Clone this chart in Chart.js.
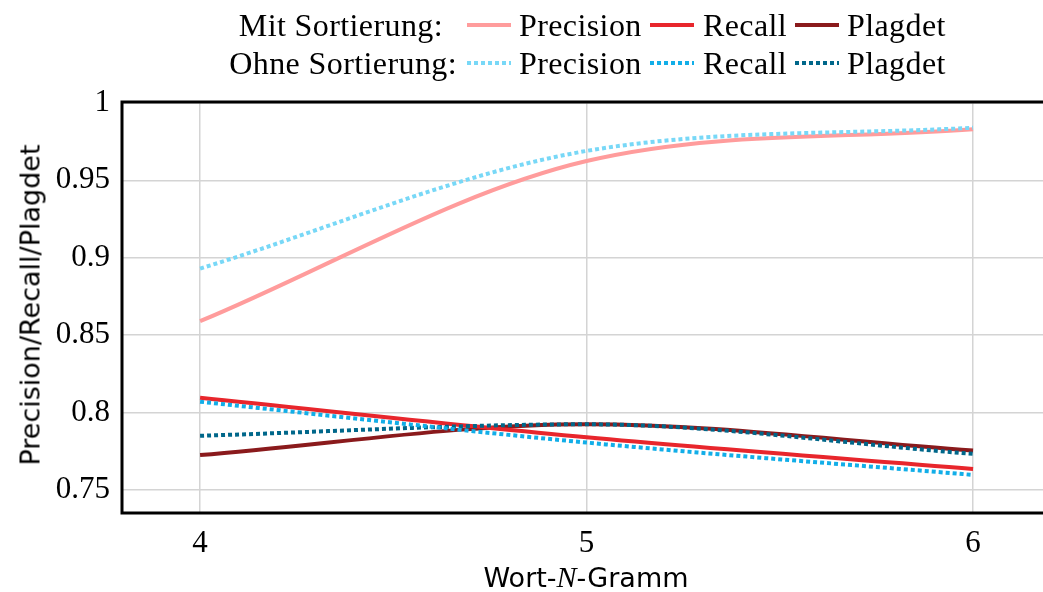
<!DOCTYPE html>
<html>
<head>
<meta charset="utf-8">
<script src="https://cdn.jsdelivr.net/npm/chart.js@4/dist/chart.umd.min.js"></script>
<style>
    body { margin: 0; background: #fff; }
    #wrap { position: relative; width: 1043px; height: 592px; overflow: hidden; }
    .txt { position: absolute; font-family: "Liberation Serif", serif; font-size: 32px; letter-spacing: 0.4px; line-height: 34px; height: 34px; white-space: nowrap; color: #000; }
    .smp { position: absolute; height: 4px; width: 44px; }
    #ytitle { position: absolute; left: 30px; top: 305px; transform: translate(-50%, -50%) rotate(-90deg); font-family: "DejaVu Sans", sans-serif; font-size: 27px; white-space: nowrap; }
    #xtitle { position: absolute; left: 586px; top: 577px; transform: translate(-50%, -50%); font-family: "DejaVu Sans", sans-serif; font-size: 27px; white-space: nowrap; }
    #xtitle i { font-family: "Liberation Serif", serif; font-size: 30px; }
</style>
</head>
<body>
<div id="wrap">
    <canvas id="chart" width="1043" height="592"></canvas>
    <div id="legend"></div>
    <div id="ytitle">Precision/Recall/Plagdet</div>
    <div id="xtitle">Wort-<i>N</i>-Gramm</div>
</div>
<script>
var xValues = [4, 5, 6];
var xTicks = [4, 5, 6];
var yTicks = [0.75, 0.8, 0.85, 0.9, 0.95, 1];

var precisionMit = [0.859, 0.9625, 0.983];
var recallMit = [0.8095, 0.784, 0.7635];
var plagdetMit = [0.7725, 0.7925, 0.7755];
var precisionOhne = [0.893, 0.969, 0.984];
var recallOhne = [0.807, 0.7806, 0.7597];
var plagdetOhne = [0.785, 0.7924, 0.7733];

var seriesNames = ["Precision", "Recall", "Plagdet"];
var groupNames = ["Mit Sortierung:", "Ohne Sortierung:"];
var colorsMit = ["#FF9C9C", "#E8262C", "#8A1A1C"];
var colorsOhne = ["#78D8F7", "#12AEE8", "#00678A"];

function toPoints(values) {
    var pts = [];
    for (var i = 0; i < values.length; i++) {
        pts.push({ x: xValues[i], y: values[i] });
    }
    return pts;
};

function makeDataset(label, values, color, dotted) {
    return {
        label: label,
        data: toPoints(values),
        borderColor: color,
        backgroundColor: color,
        borderWidth: 4,
        borderDash: dotted ? [4, 3] : [],
        borderCapStyle: "butt",
        pointRadius: 0,
        cubicInterpolationMode: "monotone",
        fill: false,
        order: dotted ? 1 : 2
    };
};

var datasets = [
    makeDataset("Mit Precision", precisionMit, colorsMit[0], false),
    makeDataset("Mit Recall", recallMit, colorsMit[1], false),
    makeDataset("Mit Plagdet", plagdetMit, colorsMit[2], false),
    makeDataset("Ohne Precision", precisionOhne, colorsOhne[0], true),
    makeDataset("Ohne Recall", recallOhne, colorsOhne[1], true),
    makeDataset("Ohne Plagdet", plagdetOhne, colorsOhne[2], true)
];

// legend, built in html
var legend = document.getElementById("legend");
var rowY = [25, 63];
var labelRight = [443, 457];
var sampleLeft = [467, 650, 795];
var textLeft = [519, 703, 847];
[colorsMit, colorsOhne].forEach(function (colors, r) {
    var lab = document.createElement("div");
    lab.className = "txt";
    lab.style.right = (1043 - labelRight[r]) + "px";
    lab.style.top = (rowY[r] - 17) + "px";
    lab.textContent = groupNames[r];
    legend.appendChild(lab);
    for (var k = 0; k < 3; k++) {
        var s = document.createElement("div");
        s.className = "smp";
        s.style.left = sampleLeft[k] + "px";
        s.style.top = (rowY[r] - 2) + "px";
        if (r === 0) {
            s.style.background = colors[k];
        } else {
            s.style.background = "repeating-linear-gradient(to right, " + colors[k] + " 0 4px, transparent 4px 7px)";
        }
        legend.appendChild(s);
        var t = document.createElement("div");
        t.className = "txt";
        t.style.left = textLeft[k] + "px";
        t.style.top = (rowY[r] - 17) + "px";
        t.textContent = seriesNames[k];
        legend.appendChild(t);
    }
});

var framePlugin = {
    id: "frame",
    afterDatasetsDraw: function (chart) {
        var a = chart.chartArea;
        var ctx = chart.ctx;
        ctx.save();
        ctx.strokeStyle = "#000";
        ctx.lineWidth = 3;
        ctx.strokeRect(a.left, a.top, a.right - a.left + 5, a.bottom - a.top);
        ctx.restore();
    }
};

var tickFont = { family: "Liberation Serif", size: 31 };

new Chart(document.getElementById("chart").getContext("2d"), {
    type: "line",
    data: { datasets: datasets },
    options: {
        responsive: false,
        animation: false,
        devicePixelRatio: 1,
        layout: { padding: { top: 102, left: 0, right: 0, bottom: 0 } },
        plugins: { legend: { display: false }, tooltip: { enabled: false } },
        scales: {
            x: {
                type: "linear",
                min: 3.798,
                max: 6.181,
                afterBuildTicks: function (s) { s.ticks = xTicks.map(function (v) { return { value: v }; }); },
                afterFit: function (s) { s.height = 79; },
                grid: { color: "#d4d4d4", lineWidth: 1.5, drawTicks: false },
                border: { display: false },
                ticks: { font: tickFont, color: "#000", padding: 12, maxRotation: 0, callback: function (v) { return String(v); } }
            },
            y: {
                type: "linear",
                min: 0.7351,
                max: 1.0006,
                afterBuildTicks: function (s) { s.ticks = yTicks.map(function (v) { return { value: v }; }); },
                afterFit: function (s) { s.width = 122; },
                grid: { color: "#d4d4d4", lineWidth: 1.5, drawTicks: false },
                border: { display: false },
                ticks: { font: tickFont, color: "#000", padding: 12, callback: function (v) { return String(v); } }
            }
        }
    },
    plugins: [framePlugin]
});
</script>
</body>
</html>
